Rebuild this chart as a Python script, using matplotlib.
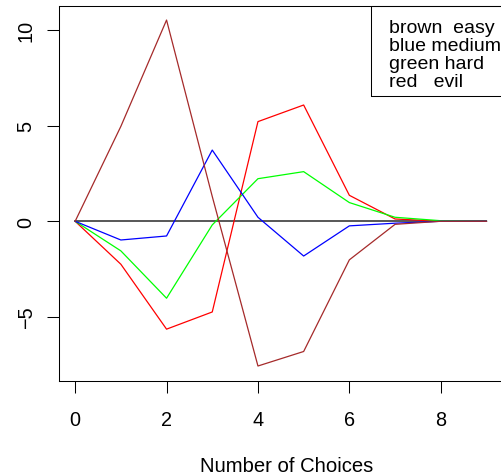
import matplotlib
matplotlib.use("Agg")
import matplotlib.pyplot as plt
from matplotlib.patches import Rectangle

plt.rcParams["font.family"] = ["Liberation Sans", "DejaVu Sans"]

choices = [0, 1, 2, 3, 4, 5, 6, 7, 8, 9]
easy = [0, 4.97, 10.54, 1.3, -7.58, -6.82, -2.02, -0.16, 0, 0]
medium = [0, -0.98, -0.77, 3.73, 0.21, -1.82, -0.24, -0.1, 0, 0]
hard = [0, -1.55, -4.03, -0.19, 2.23, 2.6, 0.98, 0.21, 0.03, 0]
evil = [0, -2.25, -5.65, -4.75, 5.22, 6.09, 1.36, 0.12, 0, 0]
legend_lines = ["brown  easy", "blue medium", "green hard", "red   evil"]

W, H = 502, 477
fig = plt.figure(figsize=(W / 100, H / 100), dpi=100)
# axes box in pixels: left 58.7, top 7.3, bottom 381.7
left, top, bottom = 58.7, 7.3, 381.7
width = 9.72 * 45.7
ax = fig.add_axes([left / W, (H - bottom) / H, width / W, (bottom - top) / H])
ax.set_xlim(-0.36, 9.36)
ax.set_ylim(-8.35, 11.26)

ax.plot(choices, [0] * len(choices), color="#4a4a4a", lw=1.3)
ax.plot(choices, evil, color="#FF0000", lw=0.9)
ax.plot(choices, hard, color="#00FF00", lw=0.9)
ax.plot(choices, medium, color="#0000FF", lw=0.9)
ax.plot(choices, easy, color="#A52A2A", lw=0.9)

ax.set_xticks([0, 2, 4, 6, 8])
ax.set_yticks([-5, 0, 5, 10])
ax.tick_params(axis="both", length=8.6, width=0.75, labelsize=14.3, color="black")
ax.tick_params(axis="x", pad=12.5)
ax.tick_params(axis="y", pad=8)
for lab in ax.get_yticklabels():
    lab.set_rotation(90)
    lab.set_va("center")
for sp in ax.spines.values():
    sp.set_linewidth(0.75)
    sp.set_color("black")

fig.text(287 / W, 1 - 466.7 / H, "Number of Choices", ha="center", va="center", fontsize=14.6)

# legend box (extends past right edge)
fig.patches.append(Rectangle((370.7 / W, 1 - 97.3 / H), 200 / W, (97.3 - top) / H,
                             transform=fig.transFigure, fill=False, lw=0.75, ec="black"))
for i, t in enumerate(legend_lines):
    fig.text(389.3 / W, 1 - (33 + 18 * i) / H, t, ha="left", va="baseline", fontsize=14)

fig.savefig("out.png", dpi=100)
